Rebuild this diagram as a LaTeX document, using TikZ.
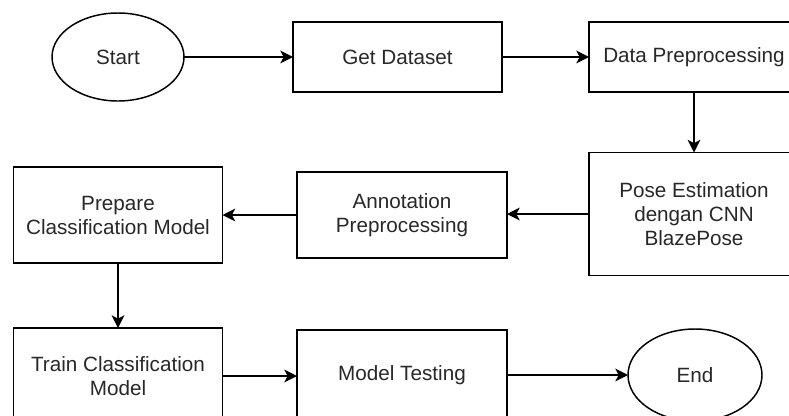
\documentclass[tikz,border=0pt]{standalone}
\usepackage{fontspec}
\setmainfont{Liberation Sans}
\usetikzlibrary{arrows.meta,shapes.geometric}
\definecolor{ink}{RGB}{40,40,40}
\begin{document}
\begin{tikzpicture}[x=0.75pt,y=-0.75pt,
  every node/.style={inner sep=0pt,outer sep=0pt,text=ink,align=center,
    font=\fontsize{15.5pt}{18pt}\selectfont},
  procbox/.style={draw=black,line width=1.1pt,rectangle},
  terminal/.style={draw=black,line width=1.1pt,ellipse},
  flow/.style={draw=black,line width=1.2pt,-{Stealth[length=9.5pt,width=9.5pt,inset=2.5pt]}}]
\useasboundingbox (0,0) rectangle (789,415);
\clip (0,0) rectangle (789,415);
\fill[white] (0,0) rectangle (789,415);

% top row
\node[terminal,minimum width=99pt,minimum height=66pt] (start) at (118,57) {Start};
\node[procbox,minimum width=156.75pt,minimum height=52.5pt] (get) at (397.5,57) {Get Dataset};
\node[procbox,minimum width=157.5pt,minimum height=52.5pt] (prep) at (694,57) {Data Preprocessing};

% middle row
\node[procbox,minimum width=157.5pt,minimum height=92.25pt] (pose) at (694,214) {Pose Estimation\\dengan CNN\\BlazePose};
\node[procbox,minimum width=157.5pt,minimum height=64.5pt] (annot) at (402,215) {Annotation\\Preprocessing};
\node[procbox,minimum width=156.75pt,minimum height=72pt] (model) at (118,215) {Prepare\\Classification Model};

% bottom row
\node[procbox,minimum width=156.75pt,minimum height=72pt] (train) at (118,376) {Train Classification\\Model};
\node[procbox,minimum width=157.5pt,minimum height=67.5pt] (test) at (402,375) {Model Testing};
\node[terminal,minimum width=100.5pt,minimum height=69pt] (end) at (695,375) {End};

% connectors
\draw[flow] (start.east) -- (get.west);
\draw[flow] (get.east) -- (prep.west);
\draw[flow] (prep.south) -- (pose.north);
\draw[flow] (pose.west) -- (pose.west -| annot.east);
\draw[flow] (annot.west) -- (model.east);
\draw[flow] (model.south) -- (train.north);
\draw[flow] (train.east) -- (train.east -| test.west);
\draw[flow] (test.east) -- (end.west);
\end{tikzpicture}
\end{document}
